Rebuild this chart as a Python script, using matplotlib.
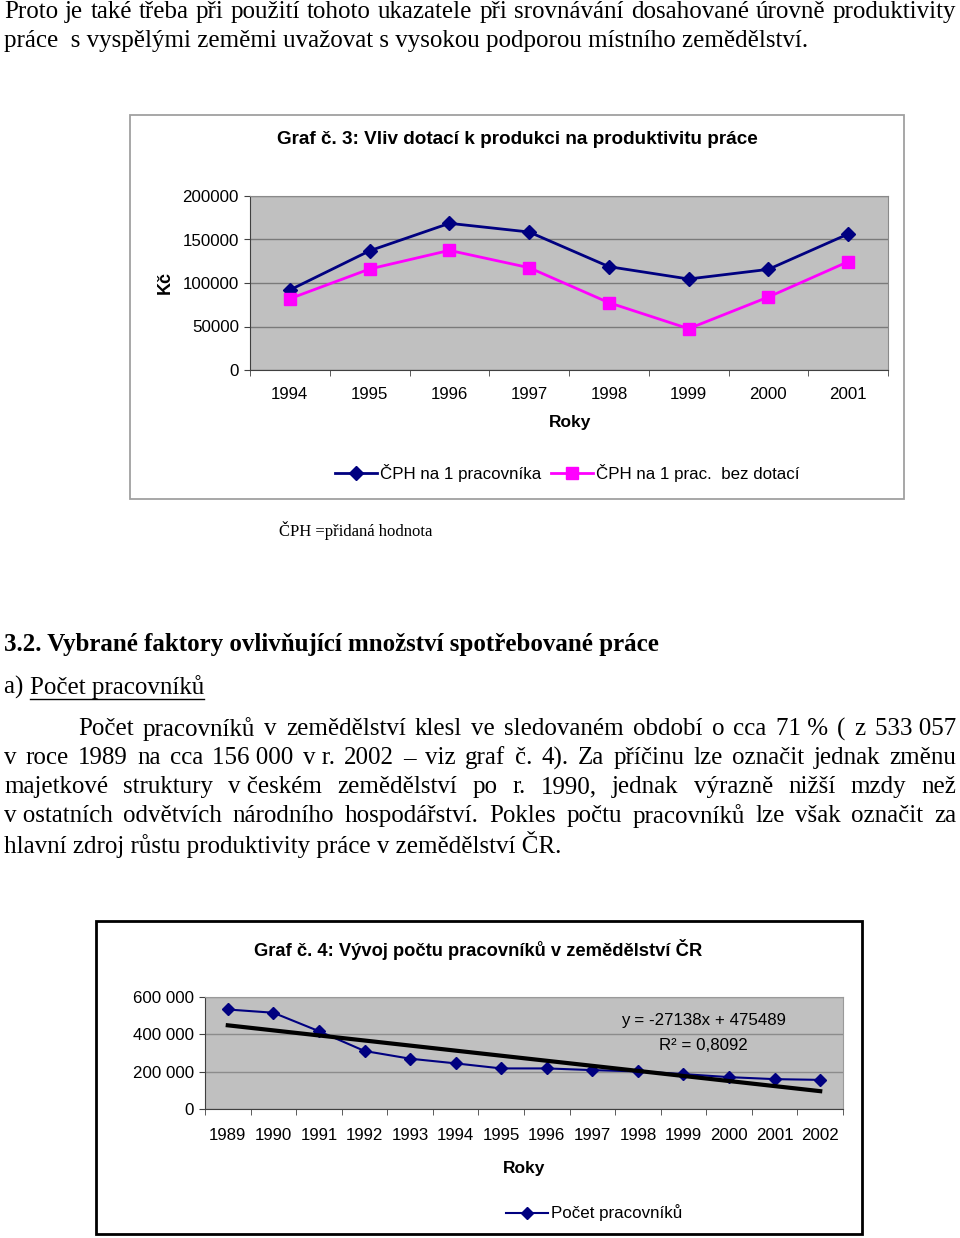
import matplotlib
matplotlib.use('Agg')
import matplotlib.pyplot as plt
import numpy as np
from matplotlib.patches import Rectangle
from matplotlib.lines import Line2D
from matplotlib.ticker import FuncFormatter

W, H = 960, 1238

# Graf c. 3 data
years3 = ['1994', '1995', '1996', '1997', '1998', '1999', '2000', '2001']
cph = [92000, 137000, 168600, 158600, 118800, 104600, 115700, 156300]
cph_bez = [82000, 116100, 137500, 117600, 77400, 47500, 83900, 124500]

# Graf c. 4 data
years4 = ['1989', '1990', '1991', '1992', '1993', '1994', '1995', '1996',
          '1997', '1998', '1999', '2000', '2001', '2002']
workers = [533057, 515700, 416900, 310900, 269500, 244400, 217400, 217400,
           208400, 201300, 186900, 170700, 160000, 156000]
trend_a, trend_b = -27138, 475489

SANS = 'Liberation Sans'
SERIF = 'Liberation Serif'
TICK = 12.2

fig = plt.figure(figsize=(W / 100, H / 100), dpi=100)
r = fig.canvas.get_renderer()


def rect(l, t, rr, b):
    return [l / W, 1 - b / H, (rr - l) / W, (b - t) / H]


def ftext(x, y, s, **kw):
    kw.setdefault('va', 'center')
    return fig.text(x / W, 1 - y / H, s, **kw)


def justify(words, x0, x1, y, **kw):
    ts = [ftext(0, y, w, **kw) for w in words]
    ws = [t.get_window_extent(r).width for t in ts]
    gap = (x1 - x0 - sum(ws)) / (len(ws) - 1)
    x = x0
    for t, w in zip(ts, ws):
        t.set_x(x / W)
        x += w + gap


body = dict(family=SERIF, fontsize=18, color='black')

# top text
justify('Proto je také třeba při použití tohoto ukazatele při srovnávání dosahované úrovně produktivity'.split(),
        4, 956, 12, **body)
ftext(4, 41, 'práce  s vyspělými zeměmi uvažovat s vysokou podporou místního zemědělství.', **body)

# ---------- Graf c. 3 ----------
fig.add_artist(Rectangle((130 / W, 1 - 499 / H), 774 / W, 384 / H, transform=fig.transFigure,
                         fill=False, ec='#a0a0a0', lw=1.3))
ftext(517, 140, 'Graf č. 3: Vliv dotací k produkci na produktivitu práce', family=SANS,
      fontsize=13.6, fontweight='bold', ha='center')

ax1 = fig.add_axes(rect(250, 196, 888, 370))
x3 = np.arange(len(years3))
ax1.set_facecolor('#C0C0C0')
ax1.plot(x3, cph, color='#000080', lw=2, marker='D', ms=7, label='ČPH na 1 pracovníka', zorder=3)
ax1.plot(x3, cph_bez, color='#FF00FF', lw=2, marker='s', ms=9, label='ČPH na 1 prac.  bez dotací', zorder=3)
ax1.set_xlim(-0.5, len(years3) - 0.5)
ax1.set_ylim(0, 200000)
ax1.set_yticks(range(0, 200001, 50000))
ax1.set_xticks(x3)
ax1.set_xticklabels(years3)
ax1.set_xticks(np.arange(-0.5, len(years3)), minor=True)
ax1.yaxis.grid(True, color='#7a7a7a', lw=1)
ax1.set_axisbelow(True)
ax1.tick_params(axis='x', which='major', length=0, pad=12)
ax1.tick_params(axis='x', which='minor', length=4, color='#404040')
ax1.tick_params(axis='y', length=4, pad=4, color='#404040')
for lab in ax1.get_xticklabels() + ax1.get_yticklabels():
    lab.set_family(SANS)
    lab.set_fontsize(TICK)
for s in ['top', 'right']:
    ax1.spines[s].set_color('#8a8a8a')
for s in ['left', 'bottom']:
    ax1.spines[s].set_color('#404040')

ftext(165, 283, 'Kč', family=SANS, fontsize=13, fontweight='bold', rotation=90, ha='center')
ftext(570, 423, 'Roky', family=SANS, fontsize=12.5, fontweight='bold', ha='center')
fig.legend(*ax1.get_legend_handles_labels(), loc='center', bbox_to_anchor=(567 / W, 1 - 473 / H),
           ncol=2, frameon=False, handlelength=2.5, handletextpad=0.15, columnspacing=0.6,
           prop=dict(family=SANS, size=TICK))

ftext(279, 530, 'ČPH =přidaná hodnota', family=SERIF, fontsize=12)

# heading + paragraph
ftext(4, 644, '3.2. Vybrané faktory ovlivňující množství spotřebované práce', family=SERIF,
      fontsize=18, fontweight='bold')
ftext(4, 687, 'a) ', **body)
t = ftext(30, 687, 'Počet pracovníků', **body)
bb = t.get_window_extent(r)
fig.add_artist(Line2D([30 / W, (30 + bb.width) / W], [1 - 699 / H, 1 - 699 / H],
                      transform=fig.transFigure, color='black', lw=1))

nb = '\u00a0'
para = [
    (78, 956, f'Počet pracovníků v zemědělství klesl ve sledovaném období o cca 71{nb}% ( z 533{nb}057'),
    (4, 956, f'v roce 1989 na cca 156{nb}000 v{nb}r. 2002 – viz graf č. 4). Za příčinu lze označit jednak změnu'),
    (4, 956, f'majetkové struktury v{nb}českém zemědělství po r. 1990, jednak výrazně nižší mzdy než'),
    (4, 956, f'v{nb}ostatních odvětvích národního hospodářství. Pokles počtu pracovníků lze však označit za'),
]
for i, (x0, x1, line) in enumerate(para):
    justify(line.split(' '), x0, x1, 729 + 29 * i, **body)
ftext(4, 845, 'hlavní zdroj růstu produktivity práce v zemědělství ČR.', **body)

# ---------- Graf c. 4 ----------
fig.add_artist(Rectangle((96 / W, 1 - 1234 / H), 766 / W, 313 / H, transform=fig.transFigure,
                         fill=False, ec='black', lw=2))
ftext(478, 950, 'Graf č. 4: Vývoj počtu pracovníků v zemědělství ČR', family=SANS,
      fontsize=13.2, fontweight='bold', ha='center')

ax2 = fig.add_axes(rect(205, 997, 843, 1109))
x4 = np.arange(len(years4))
ax2.set_facecolor('#C0C0C0')
ax2.plot(x4, workers, color='#000080', lw=1.5, marker='D', ms=6, label='Počet pracovníků', zorder=3)
ax2.plot(x4, trend_a * (x4 + 1) + trend_b, color='black', lw=3, zorder=4)
ax2.set_xlim(-0.5, len(years4) - 0.5)
ax2.set_ylim(0, 600000)
ax2.set_yticks(range(0, 600001, 200000))
ax2.yaxis.set_major_formatter(FuncFormatter(lambda v, p: f'{int(v):,}'.replace(',', ' ')))
ax2.set_xticks(x4)
ax2.set_xticklabels(years4)
ax2.set_xticks(np.arange(-0.5, len(years4)), minor=True)
ax2.yaxis.grid(True, color='#8c8c8c', lw=1)
ax2.set_axisbelow(True)
ax2.tick_params(axis='x', which='major', length=0, pad=14)
ax2.tick_params(axis='x', which='minor', length=4, color='#404040')
ax2.tick_params(axis='y', length=4, pad=4, color='#404040')
for lab in ax2.get_xticklabels() + ax2.get_yticklabels():
    lab.set_family(SANS)
    lab.set_fontsize(TICK)
for s in ['top', 'right']:
    ax2.spines[s].set_color('#9a9a9a')
for s in ['left', 'bottom']:
    ax2.spines[s].set_color('#404040')

ftext(703, 1021, 'y = -27138x + 475489', family=SANS, fontsize=TICK, ha='center')
ftext(703, 1045, 'R² = 0,8092', family=SANS, fontsize=TICK, ha='center')
ftext(524, 1168, 'Roky', family=SANS, fontsize=12.5, fontweight='bold', ha='center')
fig.legend(*ax2.get_legend_handles_labels(), loc='center', bbox_to_anchor=(594 / W, 1 - 1213 / H),
           frameon=False, handlelength=2.5, handletextpad=0.15,
           prop=dict(family=SANS, size=TICK))

fig.savefig('out.png', dpi=100)
